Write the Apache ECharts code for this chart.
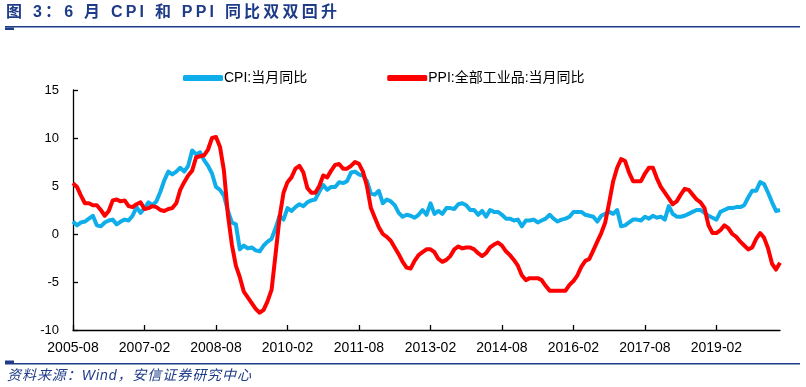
<!DOCTYPE html>
<html><head><meta charset="utf-8">
<script src="https://cdn.jsdelivr.net/npm/echarts@6/dist/echarts.min.js"></script>
<style>html,body{margin:0;padding:0;background:#fff}#c{width:806px;height:387px}</style>
</head><body><div id="c"></div>
<script>
// Monthly categories 2005-08 .. 2020-06
var startYear = 2005, startMonth = 8, monthCount = 179;
var categories = [];
for (var k = 0; k < monthCount; k++) {
  var m = startMonth - 1 + k;
  var y = startYear + Math.floor(m / 12);
  var mm = (m % 12) + 1;
  categories.push(y + '-' + (mm < 10 ? '0' + mm : mm));
}
var cpiName = 'CPI:当月同比';
var ppiName = 'PPI:全部工业品:当月同比';
var cpi = [
  1.3,0.9,1.2,1.3,1.6,
  1.9,0.9,0.8,1.2,1.4,1.5,1.0,1.3,1.5,1.4,1.9,2.8,
  2.2,2.7,3.3,3.0,3.4,4.4,5.6,6.5,6.2,6.5,6.9,6.5,
  7.1,8.7,8.3,8.5,7.7,7.1,6.3,4.9,4.6,4.0,2.4,1.2,
  1.0,-1.6,-1.2,-1.5,-1.4,-1.7,-1.8,-1.2,-0.8,-0.5,0.6,1.9,
  1.5,2.7,2.4,2.8,3.1,2.9,3.3,3.5,3.6,4.4,5.1,4.6,
  4.9,4.9,5.4,5.3,5.5,6.4,6.5,6.2,6.1,5.5,4.2,4.1,
  4.5,3.2,3.6,3.4,3.0,2.2,1.8,2.0,1.9,1.7,2.0,2.5,
  2.0,3.2,2.1,2.4,2.1,2.7,2.7,2.6,3.1,3.2,3.0,2.5,
  2.5,2.0,2.4,1.8,2.5,2.3,2.3,2.0,1.6,1.6,1.4,1.5,
  0.8,1.4,1.4,1.5,1.2,1.4,1.6,2.0,1.6,1.3,1.5,1.6,
  1.8,2.3,2.3,2.3,2.0,1.9,1.8,1.3,1.9,2.1,2.3,2.1,
  2.5,0.8,0.9,1.2,1.5,1.5,1.4,1.8,1.6,1.9,1.7,1.8,
  1.5,2.9,2.1,1.8,1.8,1.9,2.1,2.3,2.5,2.5,2.2,1.9,
  1.7,1.5,2.3,2.5,2.7,2.7,2.8,2.8,3.0,3.8,4.5,4.5,
  5.4,5.2,4.3,3.3,2.4,2.5
];
var ppi = [
  5.3,4.9,4.0,3.2,3.2,
  3.0,3.0,2.5,1.9,2.4,3.5,3.6,3.4,3.5,2.9,2.8,3.1,
  3.3,2.6,2.7,2.9,2.8,2.5,2.4,2.6,2.7,3.2,4.6,5.4,
  6.1,6.6,8.0,8.1,8.2,8.8,10.0,10.1,9.1,6.6,2.0,-1.1,
  -3.3,-4.5,-6.0,-6.6,-7.2,-7.8,-8.2,-7.9,-7.0,-5.8,-2.1,1.7,
  4.3,5.4,5.9,6.8,7.1,6.4,4.8,4.3,4.3,5.0,6.1,5.9,
  6.6,7.2,7.3,6.8,6.8,7.1,7.5,7.3,6.5,5.0,2.7,1.7,
  0.7,0.0,-0.3,-0.7,-1.4,-2.1,-2.9,-3.5,-3.6,-2.8,-2.2,-1.9,
  -1.6,-1.6,-1.9,-2.6,-2.9,-2.7,-2.3,-1.6,-1.3,-1.5,-1.4,-1.4,
  -1.6,-2.0,-2.3,-2.0,-1.4,-1.1,-0.9,-1.2,-1.8,-2.2,-2.7,-3.3,
  -4.3,-4.8,-4.6,-4.6,-4.6,-4.8,-5.4,-5.9,-5.9,-5.9,-5.9,-5.9,
  -5.3,-4.9,-4.3,-3.4,-2.8,-2.6,-1.7,-0.8,0.1,1.2,3.3,5.5,
  6.9,7.8,7.6,6.4,5.5,5.5,5.5,6.3,6.9,6.9,5.8,4.9,
  4.3,3.7,3.1,3.4,4.1,4.7,4.6,4.1,3.6,3.3,2.7,0.9,
  0.1,0.1,0.4,0.9,0.6,0.0,-0.3,-0.8,-1.2,-1.6,-1.4,-0.5,
  0.1,-0.4,-1.5,-3.1,-3.7,-3.0
];
var yTicks = { min: -10, max: 15, step: 5 };
var labelEvery = 18;
var titleText = '图 3：6 月 CPI 和 PPI 同比双双回升';
var sourceText = '资料来源：Wind，安信证券研究中心';

var navy = '#1F3C88';
var font = '"Liberation Sans", Arial, "Noto Sans CJK SC", sans-serif';

// letter-spaced text laid out as separate glyphs
var mctx = document.createElement('canvas').getContext('2d');
function spacedText(text, x, top, cssFont, targetWidth, color) {
  mctx.font = cssFont;
  var chars = Array.from(text), widths = chars.map(function (c) { return mctx.measureText(c).width; });
  var natural = widths.reduce(function (a, b) { return a + b; }, 0);
  var gap = chars.length > 1 ? (targetWidth - natural) / (chars.length - 1) : 0;
  var out = [], cx = x;
  chars.forEach(function (c, i) {
    if (c !== ' ') out.push({ type: 'text', x: cx, y: top, style: { text: c, fill: color, font: cssFont } });
    cx += widths[i] + gap;
  });
  return out;
}

var chart = echarts.init(document.getElementById('c'), null, { renderer: 'canvas' });
var graphics = [
  { type: 'rect', shape: { x: 5, y: 26, width: 795, height: 1.5 }, style: { fill: navy } },
  { type: 'rect', shape: { x: 5, y: 27.5, width: 9, height: 2.5 }, style: { fill: navy } },
  { type: 'rect', shape: { x: 5, y: 363, width: 795, height: 1.5 }, style: { fill: navy } },
  { type: 'rect', shape: { x: 5, y: 360.5, width: 9, height: 2.5 }, style: { fill: navy } }
].concat(spacedText(titleText, 6, 5, 'bold 16px ' + font, 331, navy))
 .concat(spacedText(sourceText, 7, 369, 'italic 14px ' + font, 244, navy));

chart.setOption({
  animation: false,
  textStyle: { fontFamily: font },
  grid: { left: 73, right: 26, top: 90, bottom: 57, containLabel: false },
  legend: {
    top: 66, left: 178, itemGap: 80, itemWidth: 40, itemHeight: 6,
    icon: 'roundRect',
    textStyle: { fontSize: 14, color: '#000', fontFamily: font, padding: [0,0,0,-4] },
    data: [cpiName, ppiName]
  },
  xAxis: [{
    type: 'category', data: categories, boundaryGap: false,
    axisLine: { show: false }, axisTick: { show: false }, splitLine: { show: false },
    axisLabel: { interval: labelEvery - 1, fontSize: 14, color: '#000', margin: 11, fontFamily: font }
  }, {
    type: 'category', data: categories, boundaryGap: false, position: 'bottom',
    axisLine: { show: true, onZero: true, lineStyle: { color: '#000', width: 1.3 } },
    axisTick: { show: true, inside: true, length: 5, interval: labelEvery - 1, lineStyle: { color: '#000', width: 1.3 } },
    axisLabel: { show: false }, splitLine: { show: false }
  }],
  yAxis: {
    type: 'value', min: yTicks.min, max: yTicks.max, interval: yTicks.step,
    axisLine: { show: true, onZero: false, lineStyle: { color: '#000', width: 1.3 } },
    axisTick: { show: true, inside: true, length: 5, lineStyle: { color: '#000', width: 1.3 } },
    splitLine: { show: false },
    axisLabel: { fontSize: 13, color: '#000', margin: 14, fontFamily: font }
  },
  series: [{
    name: cpiName, type: 'line', data: cpi, xAxisIndex: 0, showSymbol: false, symbol: 'none',
    lineStyle: { color: '#0FAEEA', width: 4, join: 'round' }, itemStyle: { color: '#0FAEEA' }, z: 2
  }, {
    name: ppiName, type: 'line', data: ppi, xAxisIndex: 0, showSymbol: false, symbol: 'none',
    lineStyle: { color: '#FF0000', width: 4, join: 'round' }, itemStyle: { color: '#FF0000' }, z: 3
  }],
  graphic: graphics
});
</script></body></html>
